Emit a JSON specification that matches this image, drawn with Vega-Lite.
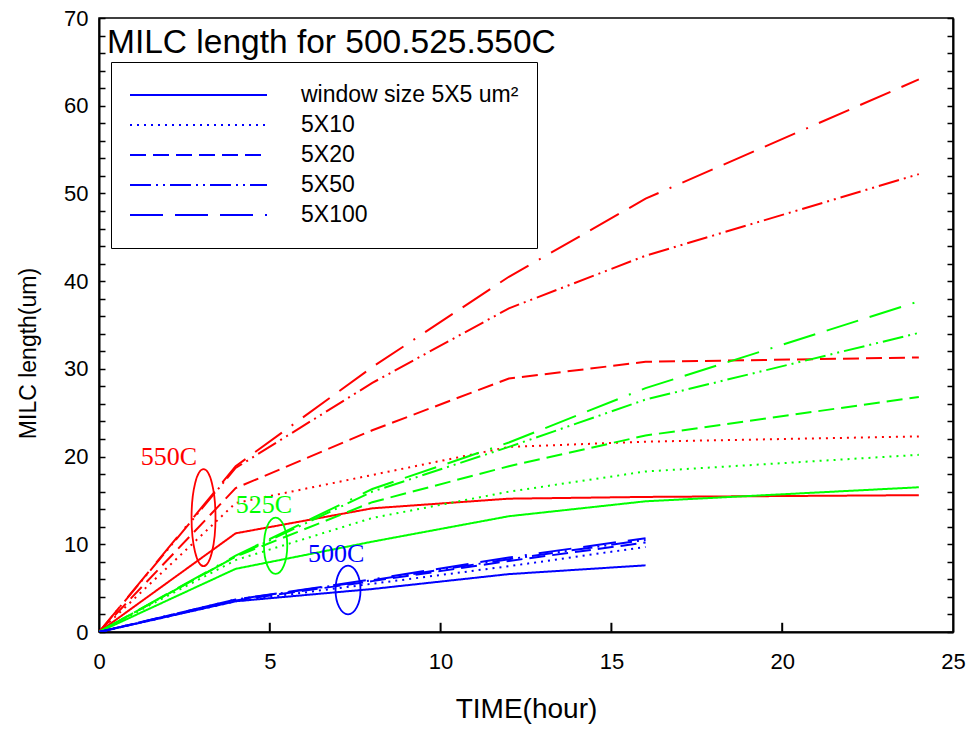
{
  "$schema": "https://vega.github.io/schema/vega-lite/v6.json",
  "width": 854,
  "height": 614,
  "autosize": "none",
  "padding": {"left": 99, "top": 18, "right": 18, "bottom": 99},
  "background": "white",
  "config": {
    "view": {"stroke": "black", "strokeWidth": 1.5},
    "font": "Liberation Sans",
    "axis": {"domainColor": "black", "domainWidth": 2, "tickColor": "black", "tickWidth": 1.5, "grid": false, "labelColor": "black", "titleColor": "black", "labelFont": "Liberation Sans", "titleFont": "Liberation Sans", "titleFontWeight": "normal"}
  },
  "title": {"text": "MILC length for 500.525.550C", "anchor": "start", "frame": "group", "orient": "top", "offset": -79, "dx": 8, "baseline": "alphabetic", "fontSize": 33.5, "font": "Liberation Sans", "fontWeight": "normal", "color": "black"},
  "datasets": {
    "lines": [
      {"temp": "550C", "window": "5X5", "time": 0, "length": 0},
      {"temp": "550C", "window": "5X5", "time": 4, "length": 11.25},
      {"temp": "550C", "window": "5X5", "time": 8, "length": 14.1},
      {"temp": "550C", "window": "5X5", "time": 12, "length": 15.2},
      {"temp": "550C", "window": "5X5", "time": 16, "length": 15.4},
      {"temp": "550C", "window": "5X5", "time": 24, "length": 15.6},
      {"temp": "550C", "window": "5X10", "time": 0, "length": 0},
      {"temp": "550C", "window": "5X10", "time": 4, "length": 14.7},
      {"temp": "550C", "window": "5X10", "time": 8, "length": 17.9},
      {"temp": "550C", "window": "5X10", "time": 12, "length": 21.1},
      {"temp": "550C", "window": "5X10", "time": 16, "length": 21.7},
      {"temp": "550C", "window": "5X10", "time": 24, "length": 22.3},
      {"temp": "550C", "window": "5X20", "time": 0, "length": 0},
      {"temp": "550C", "window": "5X20", "time": 4, "length": 16.4},
      {"temp": "550C", "window": "5X20", "time": 8, "length": 23.0},
      {"temp": "550C", "window": "5X20", "time": 12, "length": 28.9},
      {"temp": "550C", "window": "5X20", "time": 16, "length": 30.8},
      {"temp": "550C", "window": "5X20", "time": 24, "length": 31.3},
      {"temp": "550C", "window": "5X50", "time": 0, "length": 0},
      {"temp": "550C", "window": "5X50", "time": 4, "length": 18.7},
      {"temp": "550C", "window": "5X50", "time": 8, "length": 28.4},
      {"temp": "550C", "window": "5X50", "time": 12, "length": 36.9},
      {"temp": "550C", "window": "5X50", "time": 16, "length": 42.9},
      {"temp": "550C", "window": "5X50", "time": 24, "length": 52.2},
      {"temp": "550C", "window": "5X100", "time": 0, "length": 0},
      {"temp": "550C", "window": "5X100", "time": 4, "length": 18.9},
      {"temp": "550C", "window": "5X100", "time": 8, "length": 30.2},
      {"temp": "550C", "window": "5X100", "time": 12, "length": 40.5},
      {"temp": "550C", "window": "5X100", "time": 16, "length": 49.4},
      {"temp": "550C", "window": "5X100", "time": 24, "length": 63.0},
      {"temp": "525C", "window": "5X5", "time": 0, "length": 0},
      {"temp": "525C", "window": "5X5", "time": 4, "length": 7.2},
      {"temp": "525C", "window": "5X5", "time": 8, "length": 10.3},
      {"temp": "525C", "window": "5X5", "time": 12, "length": 13.2},
      {"temp": "525C", "window": "5X5", "time": 16, "length": 14.9},
      {"temp": "525C", "window": "5X5", "time": 24, "length": 16.5},
      {"temp": "525C", "window": "5X10", "time": 0, "length": 0},
      {"temp": "525C", "window": "5X10", "time": 4, "length": 8.2},
      {"temp": "525C", "window": "5X10", "time": 8, "length": 13.0},
      {"temp": "525C", "window": "5X10", "time": 12, "length": 16.0},
      {"temp": "525C", "window": "5X10", "time": 16, "length": 18.3},
      {"temp": "525C", "window": "5X10", "time": 24, "length": 20.2},
      {"temp": "525C", "window": "5X20", "time": 0, "length": 0},
      {"temp": "525C", "window": "5X20", "time": 4, "length": 8.6},
      {"temp": "525C", "window": "5X20", "time": 8, "length": 14.8},
      {"temp": "525C", "window": "5X20", "time": 12, "length": 18.9},
      {"temp": "525C", "window": "5X20", "time": 16, "length": 22.4},
      {"temp": "525C", "window": "5X20", "time": 24, "length": 26.8},
      {"temp": "525C", "window": "5X50", "time": 0, "length": 0},
      {"temp": "525C", "window": "5X50", "time": 4, "length": 8.6},
      {"temp": "525C", "window": "5X50", "time": 8, "length": 16.0},
      {"temp": "525C", "window": "5X50", "time": 12, "length": 21.1},
      {"temp": "525C", "window": "5X50", "time": 16, "length": 26.5},
      {"temp": "525C", "window": "5X50", "time": 24, "length": 34.1},
      {"temp": "525C", "window": "5X100", "time": 0, "length": 0},
      {"temp": "525C", "window": "5X100", "time": 4, "length": 8.7},
      {"temp": "525C", "window": "5X100", "time": 8, "length": 16.3},
      {"temp": "525C", "window": "5X100", "time": 12, "length": 21.6},
      {"temp": "525C", "window": "5X100", "time": 16, "length": 27.8},
      {"temp": "525C", "window": "5X100", "time": 24, "length": 37.7},
      {"temp": "500C", "window": "5X5", "time": 0, "length": 0},
      {"temp": "500C", "window": "5X5", "time": 4, "length": 3.5},
      {"temp": "500C", "window": "5X5", "time": 8, "length": 4.9},
      {"temp": "500C", "window": "5X5", "time": 12, "length": 6.6},
      {"temp": "500C", "window": "5X5", "time": 16, "length": 7.6},
      {"temp": "500C", "window": "5X10", "time": 0, "length": 0},
      {"temp": "500C", "window": "5X10", "time": 4, "length": 3.5},
      {"temp": "500C", "window": "5X10", "time": 8, "length": 5.5},
      {"temp": "500C", "window": "5X10", "time": 12, "length": 7.5},
      {"temp": "500C", "window": "5X10", "time": 16, "length": 9.7},
      {"temp": "500C", "window": "5X20", "time": 0, "length": 0},
      {"temp": "500C", "window": "5X20", "time": 4, "length": 3.6},
      {"temp": "500C", "window": "5X20", "time": 8, "length": 5.8},
      {"temp": "500C", "window": "5X20", "time": 12, "length": 8.1},
      {"temp": "500C", "window": "5X20", "time": 16, "length": 10.2},
      {"temp": "500C", "window": "5X50", "time": 0, "length": 0},
      {"temp": "500C", "window": "5X50", "time": 4, "length": 3.7},
      {"temp": "500C", "window": "5X50", "time": 8, "length": 5.9},
      {"temp": "500C", "window": "5X50", "time": 12, "length": 8.3},
      {"temp": "500C", "window": "5X50", "time": 16, "length": 10.5},
      {"temp": "500C", "window": "5X100", "time": 0, "length": 0},
      {"temp": "500C", "window": "5X100", "time": 4, "length": 3.7},
      {"temp": "500C", "window": "5X100", "time": 8, "length": 6.0},
      {"temp": "500C", "window": "5X100", "time": 12, "length": 8.5},
      {"temp": "500C", "window": "5X100", "time": 16, "length": 10.7}
    ],
    "labels": [
      {"temp": "550C", "time": 2.05, "length": 19.0},
      {"temp": "525C", "time": 4.83, "length": 13.6},
      {"temp": "500C", "time": 6.94, "length": 8.0}
    ],
    "ellipses": [
      {"temp": "550C", "time": 3.06, "length": 13.03},
      {"temp": "525C", "time": 5.17, "length": 9.83},
      {"temp": "500C", "time": 7.29, "length": 4.79}
    ],
    "xticks": [
      {"time": 5}, {"time": 10}, {"time": 15}, {"time": 20}
    ]
  },
  "encoding": {
    "x": {"field": "time", "type": "quantitative", "scale": {"domain": [0, 25], "nice": false}, "axis": null}
  },
  "layer": [
    {
      "data": {"name": "lines"},
      "mark": {"type": "line", "strokeWidth": 2, "clip": true},
      "encoding": {
        "x": {"field": "time", "type": "quantitative", "scale": {"domain": [0, 25], "nice": false},
          "axis": {"orient": "bottom", "values": [0, 5, 10, 15, 20, 25], "ticks": false, "labelFlush": false, "labelPadding": 19, "labelFontSize": 22, "title": "TIME(hour)", "titleFontSize": 28, "titlePadding": 23}},
        "y": {"field": "length", "type": "quantitative", "scale": {"domain": [0, 70], "nice": false},
          "axis": {"orient": "left", "values": [0,2,4,6,8,10,12,14,16,18,20,22,24,26,28,30,32,34,36,38,40,42,44,46,48,50,52,54,56,58,60,62,64,66,68,70], "labelExpr": "datum.value % 10 === 0 ? datum.label : ''", "labelFlush": false, "tickSize": -6, "labelPadding": 17, "labelFontSize": 22, "title": "MILC length(um)", "titleFontSize": 23, "titlePadding": 23, "titleY": 335}},
        "color": {"field": "temp", "type": "nominal", "scale": {"domain": ["500C", "525C", "550C"], "range": ["#0000ff", "#00ff00", "#ff0000"]}, "legend": null},
        "strokeDash": {"field": "window", "type": "nominal",
          "scale": {"domain": ["5X5", "5X10", "5X20", "5X50", "5X100"], "range": [[1, 0], [2, 5], [16, 7], [21, 5, 2, 5, 2, 5], [33, 12, 33, 12, 33, 12, 2, 12]]},
          "legend": {"orient": "none", "legendX": 12, "legendY": 44, "title": null, "padding": 18, "strokeColor": "black", "fillColor": "white",
            "symbolType": "stroke", "symbolSize": 18769, "clipHeight": 30, "rowPadding": 0, "labelOffset": 33, "symbolStrokeWidth": 2, "symbolStrokeColor": "#0000ff",
            "labelFontSize": 23, "labelFont": "Liberation Sans", "labelColor": "black", "labelLimit": 400, "labelBaseline": "middle",
            "labelExpr": "datum.label === '5X5' ? 'window size 5X5 um²' : datum.label"}},
        "detail": {"field": "temp"}
      }
    },
    {
      "data": {"name": "xticks"},
      "mark": {"type": "rule", "strokeWidth": 2, "color": "black"},
      "encoding": {
        "y": {"datum": 0, "type": "quantitative", "axis": null},
        "y2": {"datum": 1.05}
      }
    },
    {
      "data": {"name": "ellipses"},
      "transform": [{"filter": "datum.temp === '550C'"}],
      "mark": {"type": "point", "filled": false, "stroke": "#ff0000", "strokeWidth": 1.8, "opacity": 1, "size": 9409, "shape": "M 0 -1 A 0.247 1 0 1 1 0 1 A 0.247 1 0 1 1 0 -1 Z"},
      "encoding": {
        "y": {"field": "length", "type": "quantitative", "scale": {"domain": [0, 70], "nice": false},
          "axis": {"orient": "right", "values": [0,2,4,6,8,10,12,14,16,18,20,22,24,26,28,30,32,34,36,38,40,42,44,46,48,50,52,54,56,58,60,62,64,66,68,70], "labels": false, "tickSize": -6, "title": null}}
      }
    },
    {
      "data": {"name": "ellipses"},
      "transform": [{"filter": "datum.temp === '525C'"}],
      "mark": {"type": "point", "filled": false, "stroke": "#00ff00", "strokeWidth": 1.8, "opacity": 1, "size": 3170, "shape": "M 0 -1 A 0.414 1 0 1 1 0 1 A 0.414 1 0 1 1 0 -1 Z"},
      "encoding": {
        "y": {"field": "length", "type": "quantitative", "axis": null}
      }
    },
    {
      "data": {"name": "ellipses"},
      "transform": [{"filter": "datum.temp === '500C'"}],
      "mark": {"type": "point", "filled": false, "stroke": "#0000ff", "strokeWidth": 1.8, "opacity": 1, "size": 2372, "shape": "M 0 -1 A 0.513 1 0 1 1 0 1 A 0.513 1 0 1 1 0 -1 Z"},
      "encoding": {
        "y": {"field": "length", "type": "quantitative", "axis": null}
      }
    },
    {
      "data": {"name": "labels"},
      "mark": {"type": "text", "font": "Liberation Serif", "fontSize": 26, "align": "center", "baseline": "alphabetic"},
      "encoding": {
        "y": {"field": "length", "type": "quantitative", "axis": null},
        "text": {"field": "temp"},
        "color": {"field": "temp", "type": "nominal", "scale": {"domain": ["500C", "525C", "550C"], "range": ["#0000ff", "#00ff00", "#ff0000"]}, "legend": null}
      }
    }
  ],
  "resolve": {"axis": {"x": "independent", "y": "independent"}}
}
